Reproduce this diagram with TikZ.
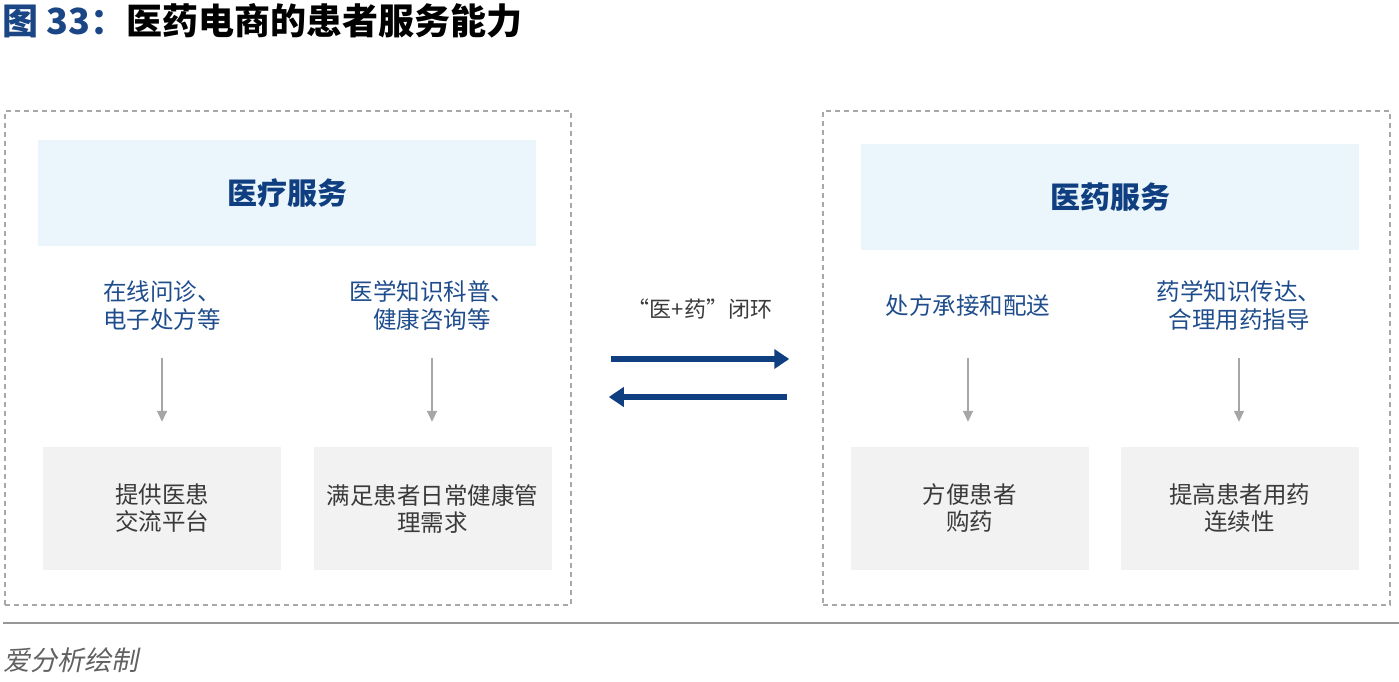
\documentclass[tikz,border=0pt]{standalone}
\usepackage{fontspec}
\setmainfont{Noto Sans CJK SC}
\newfontfamily\cjkit[FakeSlant=0.2]{Noto Sans CJK SC}
\usetikzlibrary{arrows.meta}
\definecolor{titleblue}{HTML}{1B4686}
\definecolor{navy}{HTML}{0F3F80}
\definecolor{labblue}{HTML}{1E4C8C}
\definecolor{headfill}{HTML}{EBF5FC}
\definecolor{boxfill}{HTML}{F2F2F2}
\definecolor{framegray}{HTML}{A8A8A8}
\definecolor{arrgray}{HTML}{A6A6A6}
\definecolor{txtdark}{HTML}{3A3A3A}
\tikzset{
  frame/.style={draw=framegray, line width=1.5pt, dash pattern=on 5pt off 4pt, minimum width=566pt, minimum height=494pt, inner sep=0pt},
  headband/.style={fill=headfill, minimum width=498pt, minimum height=106pt, inner sep=0pt, text=navy, font=\fontsize{30}{35}\selectfont\bfseries},
  sublabel/.style={text=labblue, align=center, inner sep=0pt, font=\fontsize{23.5}{28}\selectfont},
  resultbox/.style={fill=boxfill, minimum width=238pt, minimum height=123pt, inner sep=0pt, align=center, text=txtdark, font=\fontsize{23.5}{27}\selectfont},
  grayarrow/.style={draw=arrgray, line width=1.5pt, -{Triangle[length=11pt,width=10pt]}},
  navyarrow/.style={draw=navy, line width=5.5pt, -{Triangle[length=15pt,width=19pt]}}
}
\begin{document}
\begin{tikzpicture}[x=1pt,y=1pt]
\useasboundingbox (0,0) rectangle (1399,-682);
% title
\node[anchor=west, inner sep=0pt, font=\fontsize{36}{40}\selectfont\bfseries] (title) at (2,-21)
  {{\color{titleblue}图 33：}医药电商的患者服务能力};
% frames
\node[frame] (leftframe) at (288,-358) {};
\node[frame, minimum width=567pt] (rightframe) at (1106.5,-358) {};
% header bands
\node[headband] (lhead) at (287,-193) {医疗服务};
\node[headband] (rhead) at (1110,-197) {医药服务};
% sub labels
\node[sublabel] (l1) at (162,-306) {在线问诊、\\电子处方等};
\node[sublabel] (l2) at (432,-306) {医学知识科普、\\健康咨询等};
\node[sublabel] (r1) at (968,-306) {处方承接和配送};
\node[sublabel] (r2) at (1239,-306) {药学知识传达、\\合理用药指导};
% result boxes
\node[resultbox] (lb1) at (162,-508.5) {提供医患\\交流平台};
\node[resultbox] (lb2) at (432.5,-508.5) {满足患者日常健康管\\理需求};
\node[resultbox] (rb1) at (969.5,-508.5) {方便患者\\购药};
\node[resultbox] (rb2) at (1239.5,-508.5) {提高患者用药\\连续性};
% gray arrows
\draw[grayarrow, shorten >=25pt] (l1.south |- 0,-358) -- (l1.south |- lb1.north);
\draw[grayarrow, shorten >=25pt] (l2.south |- 0,-358) -- (l2.south |- lb2.north);
\draw[grayarrow, shorten >=25pt] (r1.south |- 0,-358) -- (r1.south |- rb1.north);
\draw[grayarrow, shorten >=25pt] (r2.south |- 0,-358) -- (r2.south |- rb2.north);
% middle
\node[inner sep=0pt, text=txtdark, font=\fontsize{22}{26}\selectfont] (loop) at (700,-309) {“医+药”闭环};
\draw[navyarrow] ([xshift=39pt]leftframe.east |- 0,-359) -- ([xshift=-33pt]rightframe.west |- 0,-359);
\draw[navyarrow] ([xshift=-35pt]rightframe.west |- 0,-397) -- ([xshift=37pt]leftframe.east |- 0,-397);
% footer
\coordinate (ruleL) at (3,-623);
\coordinate (ruleR) at (1399,-623);
\draw[draw=framegray!90!black, line width=2pt] (ruleL) -- (ruleR);
\node[anchor=west, inner sep=0pt, text=black!62, font=\fontsize{27}{30}\selectfont\cjkit] (source) at (3,-660) {爱分析绘制};
\end{tikzpicture}
\end{document}
